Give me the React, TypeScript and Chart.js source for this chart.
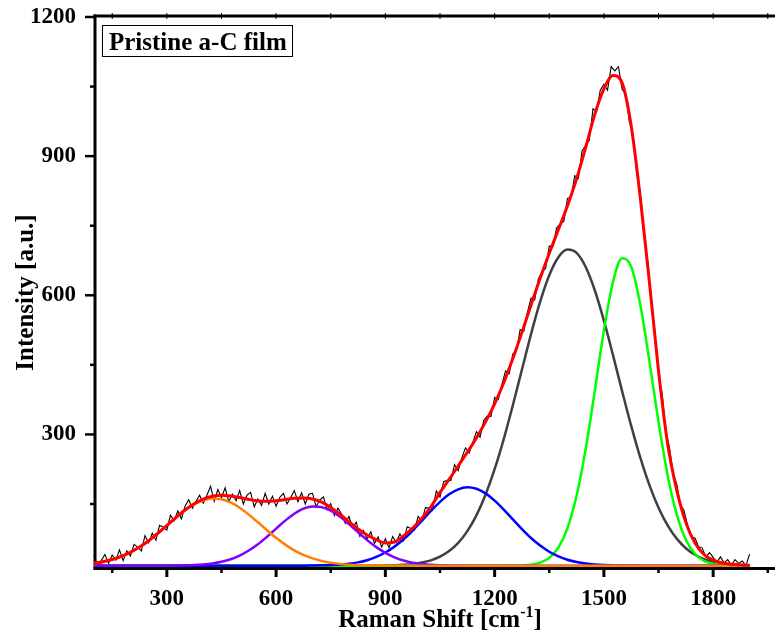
import React, { useEffect, useRef } from "react";
import { Chart, registerables } from "chart.js";

Chart.register(...registerables);

const FONT = '"Liberation Serif", "Times New Roman", Times, serif';

const X_MIN = 100;
const X_MAX = 2000;
const Y_MIN = 12;
const Y_MAX = 1200;

const xTickValues = [150, 300, 450, 600, 750, 900, 1050, 1200, 1350, 1500, 1650, 1800, 1950];
const xMajorLabels = [300, 600, 900, 1200, 1500, 1800];
const yTickValues = [150, 300, 450, 600, 750, 900, 1050, 1200];
const yMajorLabels = [300, 600, 900, 1200];

const chartTitle = "Pristine a-C film";
const xTitleMain = "Raman Shift [cm";
const xTitleSup = "-1";
const xTitleEnd = "]";
const yTitle = "Intensity [a.u.]";

// Raman shift grid of the measured spectrum
const ramanX = [
  100, 110, 120, 130, 140, 150, 160, 170, 180, 190,
  200, 210, 220, 230, 240, 250, 260, 270, 280, 290,
  300, 310, 320, 330, 340, 350, 360, 370, 380, 390,
  400, 410, 420, 430, 440, 450, 460, 470, 480, 490,
  500, 510, 520, 530, 540, 550, 560, 570, 580, 590,
  600, 610, 620, 630, 640, 650, 660, 670, 680, 690,
  700, 710, 720, 730, 740, 750, 760, 770, 780, 790,
  800, 810, 820, 830, 840, 850, 860, 870, 880, 890,
  900, 910, 920, 930, 940, 950, 960, 970, 980, 990,
  1000, 1010, 1020, 1030, 1040, 1050, 1060, 1070, 1080, 1090,
  1100, 1110, 1120, 1130, 1140, 1150, 1160, 1170, 1180, 1190,
  1200, 1210, 1220, 1230, 1240, 1250, 1260, 1270, 1280, 1290,
  1300, 1310, 1320, 1330, 1340, 1350, 1360, 1370, 1380, 1390,
  1400, 1410, 1420, 1430, 1440, 1450, 1460, 1470, 1480, 1490,
  1500, 1510, 1520, 1530, 1540, 1550, 1560, 1570, 1580, 1590,
  1600, 1610, 1620, 1630, 1640, 1650, 1660, 1670, 1680, 1690,
  1700, 1710, 1720, 1730, 1740, 1750, 1760, 1770, 1780, 1790,
  1800, 1810, 1820, 1830, 1840, 1850, 1860, 1870, 1880, 1890,
  1900,
];

// Measured intensity (noisy black trace)
const measured = [
  40, 15, 28, 41, 22, 40, 29, 51, 28, 49,
  38, 63, 57, 49, 82, 66, 87, 72, 104, 100,
  94, 126, 114, 135, 118, 145, 159, 141, 156, 169,
  152, 169, 188, 156, 181, 164, 185, 155, 171, 157,
  179, 150, 169, 175, 144, 161, 147, 173, 150, 167,
  145, 164, 173, 150, 164, 179, 155, 174, 150, 171,
  173, 144, 159, 165, 138, 151, 125, 141, 128, 108,
  123, 99, 111, 80, 93, 74, 90, 65, 79, 57,
  75, 56, 80, 67, 86, 71, 101, 97, 94, 123,
  113, 142, 141, 141, 178, 165, 198, 201, 201, 235,
  222, 250, 271, 260, 283, 306, 294, 330, 340, 339,
  380, 375, 408, 437, 431, 474, 480, 526, 522, 563,
  594, 590, 635, 650, 658, 706, 705, 745, 754, 759,
  809, 812, 858, 852, 911, 923, 934, 1002, 996, 1042,
  1055, 1042, 1093, 1084, 1093, 1044, 1033, 974, 948, 864,
  820, 731, 676, 586, 524, 429, 388, 306, 272, 217,
  193, 148, 136, 104, 79, 77, 58, 55, 36, 45,
  35, 24, 36, 23, 30, 18, 30, 22, 27, 17,
  42,
];

// Raman shift grid of the fitted curves
const fitX = [
  100, 125, 150, 175, 200, 225, 250, 275, 300, 325,
  350, 375, 400, 425, 450, 475, 500, 525, 550, 575,
  600, 625, 650, 675, 700, 725, 750, 775, 800, 825,
  850, 875, 900, 925, 950, 975, 1000, 1025, 1050, 1075,
  1100, 1125, 1150, 1175, 1200, 1225, 1250, 1275, 1300, 1325,
  1350, 1375, 1400, 1425, 1450, 1475, 1500, 1525, 1550, 1575,
  1600, 1625, 1650, 1675, 1700, 1725, 1750, 1775, 1800, 1825,
  1850, 1875, 1900,
];

const fitSum = [
  22.2, 25.5, 30.2, 36.9, 45.9, 57.2, 70.9, 86.7, 103.6, 120.9,
  137, 150.6, 160.7, 166.8, 168.7, 167.1, 163.8, 159.8, 156.7, 155.9,
  157, 159.5, 162.2, 163.1, 160.7, 153.9, 142.7, 128.2, 111.6, 96,
  83, 73, 66, 68, 81, 98, 119, 144, 175, 203,
  232, 261.5, 292.5, 327, 366, 411.5, 463.5, 520, 579, 636.5,
  690.5, 741.5, 793, 851, 918.7, 990, 1045, 1074, 1058, 965,
  810, 628, 437, 280, 180, 110, 66, 41, 29, 23,
  20, 18.5, 17.7,
];

const peakOrange = [
  22.2, 25.5, 30.2, 36.9, 45.9, 57.2, 70.9, 86.7, 103.5, 120.6,
  136.3, 149.2, 158.1, 162, 160.3, 153.3, 141.9, 127.1, 110.5, 93.4,
  77, 62.4, 50.1, 40.2, 32.7, 27.2, 23.4, 20.9, 19.2, 18.3,
  17.7, 17.4, 17.2, 17, 17, 17, 17, 17, 17, 17,
  17, 17, 17, 17, 17, 17, 17, 17, 17, 17,
  17, 17, 17, 17, 17, 17, 17, 17, 17, 17,
  17, 17, 17, 17, 17, 17, 17, 17, 17, 17,
  17, 17, 17,
];

const peakPurple = [
  17, 17, 17, 17, 17, 17, 17, 17, 17.1, 17.3,
  17.7, 18.4, 19.6, 21.8, 25.4, 30.8, 38.9, 49.7, 63.2, 79.5,
  97, 114.1, 129.1, 139.9, 144.7, 143.3, 135.6, 122.8, 106.5, 89.2,
  72.1, 57, 44.6, 35.1, 28.2, 23.5, 20.7, 18.9, 18, 17.5,
  17.2, 17, 17, 17, 17, 17, 17, 17, 17, 17,
  17, 17, 17, 17, 17, 17, 17, 17, 17, 17,
  17, 17, 17, 17, 17, 17, 17, 17, 17, 17,
  17, 17, 17,
];

const peakBlue = [
  17, 17, 17, 17, 17, 17, 17, 17, 17, 17,
  17, 17, 17, 17, 17, 17, 17, 17, 17, 17,
  17, 17, 17, 17, 17.3, 17.7, 18.3, 19.3, 21.1, 24.1,
  28.8, 35.8, 45.4, 58.1, 73.9, 92.8, 113.7, 134.9, 154.7, 170.9,
  181.7, 186, 182.9, 173, 157.4, 138.1, 116.9, 96, 76.7, 60.3,
  47, 37, 29.7, 24.8, 21.5, 19.5, 18.4, 17.8, 17.4, 17.2,
  17.1, 17, 17, 17, 17, 17, 17, 17, 17, 17,
  17, 17, 17,
];

const peakGray = [
  17, 17, 17, 17, 17, 17, 17, 17, 17, 17,
  17, 17, 17, 17, 17, 17, 17, 17, 17, 17,
  17, 17, 17, 17, 17, 17, 17, 17, 17, 17,
  17.1, 17.3, 17.5, 18, 19, 20.7, 23.7, 28.5, 36.4, 48.4,
  66.1, 91.4, 125.5, 169.9, 225, 290, 362.9, 440, 516.4, 586.1,
  643.1, 681.9, 698.5, 691.4, 661.1, 610.9, 545.4, 471, 393.4, 318.3,
  249.8, 190.6, 142, 103.9, 75.3, 54.7, 40.6, 31.2, 25.3, 21.7,
  19.5, 18.3, 17.7,
];

const peakGreen = [
  17, 17, 17, 17, 17, 17, 17, 17, 17, 17,
  17, 17, 17, 17, 17, 17, 17, 17, 17, 17,
  17, 17, 17, 17, 17, 17, 17, 17, 17, 17,
  17, 17, 17, 17, 17, 17, 17, 17, 17, 17,
  17, 17, 17, 17, 17, 17, 17.2, 17.7, 19.3, 23.6,
  33.9, 56, 97.9, 167.6, 268.4, 393.9, 524, 629, 680, 661.6,
  579.4, 457.4, 326.5, 212.1, 127.5, 72.9, 42.6, 27.4, 20.9, 18.3,
  17.4, 17.1, 17,
];

const toPoints = (xs: number[], ys: number[]) => xs.map((x, i) => ({ x, y: ys[i] }));

const decorPlugin = {
  id: "decor",
  beforeDatasetsDraw(chart: any) {
    const { ctx, chartArea: a, scales } = chart;
    const xs = scales.x;
    const ys = scales.y;
    ctx.save();
    ctx.strokeStyle = "#000";
    ctx.lineCap = "butt";

    for (const v of xTickValues) {
      const px = xs.getPixelForValue(v);
      const major = xMajorLabels.includes(v);
      ctx.lineWidth = major ? 3 : 2.5;
      ctx.beginPath();
      ctx.moveTo(px, a.bottom);
      ctx.lineTo(px, a.bottom + (major ? 9 : 5));
      ctx.stroke();
      ctx.lineWidth = 1;
      ctx.beginPath();
      ctx.moveTo(px, a.top - 4);
      ctx.lineTo(px, a.top + 2);
      ctx.stroke();
    }
    for (const v of yTickValues) {
      const py = ys.getPixelForValue(v);
      const major = yMajorLabels.includes(v);
      ctx.lineWidth = 2.5;
      ctx.beginPath();
      ctx.moveTo(a.left - (major ? 9 : 4), py);
      ctx.lineTo(a.left + 1, py);
      ctx.stroke();
    }

    ctx.lineWidth = 3;
    ctx.beginPath();
    ctx.moveTo(a.left + 1, a.top - 2.5);
    ctx.lineTo(a.left + 1, a.bottom + 1.5);
    ctx.stroke();
    ctx.beginPath();
    ctx.moveTo(a.left - 0.5, a.bottom + 0.5);
    ctx.lineTo(chart.width, a.bottom + 0.5);
    ctx.stroke();
    ctx.beginPath();
    ctx.moveTo(a.left - 0.5, a.top - 1);
    ctx.lineTo(chart.width, a.top - 1);
    ctx.stroke();
    ctx.restore();
  },
  afterDatasetsDraw(chart: any) {
    const { ctx, chartArea: a } = chart;
    ctx.save();
    ctx.strokeStyle = "#000";

    // title box
    ctx.fillStyle = "#fff";
    ctx.fillRect(102.5, 25.5, 190, 31);
    ctx.lineWidth = 1;
    ctx.strokeRect(102.5, 25.5, 190, 31);
    ctx.fillStyle = "#000";
    ctx.font = `bold 25px ${FONT}`;
    ctx.textAlign = "left";
    ctx.textBaseline = "alphabetic";
    ctx.fillText(chartTitle, 109, 50);

    // x title with superscript
    const cx = (a.left + a.right) / 2;
    ctx.font = `bold 25px ${FONT}`;
    const w1 = ctx.measureText(xTitleMain).width;
    const w3 = ctx.measureText(xTitleEnd).width;
    ctx.font = `bold 16px ${FONT}`;
    const w2 = ctx.measureText(xTitleSup).width;
    let sx = cx - (w1 + w2 + w3) / 2;
    const base = 627;
    ctx.font = `bold 25px ${FONT}`;
    ctx.fillText(xTitleMain, sx, base);
    sx += w1;
    ctx.font = `bold 16px ${FONT}`;
    ctx.fillText(xTitleSup, sx, base - 10);
    sx += w2;
    ctx.font = `bold 25px ${FONT}`;
    ctx.fillText(xTitleEnd, sx, base);

    // y title
    ctx.save();
    ctx.translate(33, (a.top + a.bottom) / 2);
    ctx.rotate(-Math.PI / 2);
    ctx.textAlign = "center";
    ctx.font = `bold 25px ${FONT}`;
    ctx.fillText(yTitle, 0, 0);
    ctx.restore();

    ctx.restore();
  },
};

export default function App() {
  const canvasRef = useRef<HTMLCanvasElement | null>(null);

  useEffect(() => {
    if (!canvasRef.current) return;
    const lineBase = {
      pointRadius: 0,
      fill: false,
      clip: false as any,
      cubicInterpolationMode: "monotone" as const,
    };
    const chart = new Chart(canvasRef.current, {
      type: "line",
      data: {
        datasets: [
          { ...lineBase, label: "Fit", data: toPoints(fitX, fitSum), borderColor: "#ff0000", borderWidth: 3 },
          { ...lineBase, label: "P1", data: toPoints(fitX, peakOrange), borderColor: "#ff8000", borderWidth: 2.5 },
          { ...lineBase, label: "P2", data: toPoints(fitX, peakPurple), borderColor: "#8000ff", borderWidth: 2.5 },
          { ...lineBase, label: "P3", data: toPoints(fitX, peakBlue), borderColor: "#0000ff", borderWidth: 2.5 },
          { ...lineBase, label: "G", data: toPoints(fitX, peakGreen), borderColor: "#00ff00", borderWidth: 2.5 },
          { ...lineBase, label: "D", data: toPoints(fitX, peakGray), borderColor: "#404040", borderWidth: 2.5 },
          {
            label: "Data",
            data: toPoints(ramanX, measured),
            borderColor: "#000000",
            borderWidth: 1.1,
            pointRadius: 0,
            fill: false,
            tension: 0,
            clip: false as any,
          },
        ],
      },
      options: {
        responsive: false,
        animation: false,
        events: [],
        layout: { padding: { top: 17, right: 14, left: 0, bottom: 0 } },
        plugins: { legend: { display: false }, tooltip: { enabled: false }, title: { display: false } },
        scales: {
          x: {
            type: "linear",
            min: X_MIN,
            max: X_MAX,
            afterBuildTicks: (s: any) => {
              s.ticks = xTickValues.map((v) => ({ value: v }));
            },
            afterFit: (s: any) => {
              s.height = 67;
              s.paddingLeft = 0;
              s.paddingRight = 0;
            },
            grid: { display: false, drawTicks: false },
            border: { display: false },
            ticks: {
              padding: 17,
              autoSkip: false,
              maxRotation: 0,
              color: "#000",
              font: { family: FONT, size: 23, weight: "bold" },
              callback: (v: any) => (xMajorLabels.includes(Number(v)) ? String(v) : ""),
            },
          },
          y: {
            type: "linear",
            min: Y_MIN,
            max: Y_MAX,
            afterBuildTicks: (s: any) => {
              s.ticks = yTickValues.map((v) => ({ value: v }));
            },
            afterFit: (s: any) => {
              s.width = 94;
              s.paddingTop = 0;
              s.paddingBottom = 0;
            },
            grid: { display: false, drawTicks: false },
            border: { display: false },
            ticks: {
              padding: 18,
              autoSkip: false,
              color: "#000",
              font: { family: FONT, size: 23, weight: "bold" },
              callback: (v: any) => (yMajorLabels.includes(Number(v)) ? String(v) : ""),
            },
          },
        },
      },
      plugins: [decorPlugin],
    });
    return () => chart.destroy();
  }, []);

  return (
    <div
      style={{
        position: "fixed",
        left: 0,
        top: 0,
        width: 775,
        height: 635,
        overflow: "hidden",
        background: "#fff",
      }}
    >
      <canvas ref={canvasRef} width={800} height={635} style={{ display: "block" }} />
    </div>
  );
}
